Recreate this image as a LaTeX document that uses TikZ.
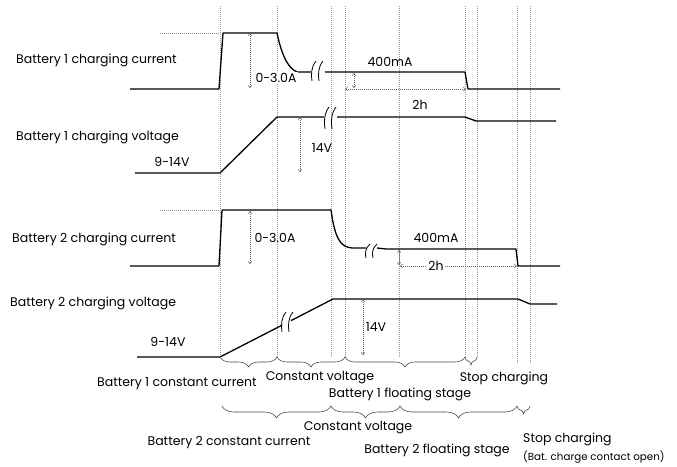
\documentclass[tikz,border=0pt]{standalone}
\usepackage{fontspec}
\setmainfont{Poppins}
\usetikzlibrary{arrows.meta,decorations.pathreplacing}
\tikzset{
  sig/.style={line width=1.3pt, black, line join=round},
  gridline/.style={gray!85, line width=0.5pt, dash pattern=on 1pt off 1pt},
  dimarrow/.style={gray!80!black, line width=0.5pt, dash pattern=on 1pt off 1pt,
     {To[length=3pt,width=4pt]}-{To[length=3pt,width=4pt]}},
  lbl/.style={font=\fontsize{12.5}{14}\selectfont, inner sep=1pt},
  smalllbl/.style={font=\fontsize{10.3}{12}\selectfont, inner sep=1pt},
  bracedeco/.style={decorate, decoration={brace, mirror, amplitude=#1}, line width=0.55pt, black!75},
  brkstroke/.style={line width=0.8pt, black}
}
\newcommand{\brkmark}[3]{% x, y, half height
  \draw[brkstroke] (#1+3,#2-#3) .. controls (#1-2,#2-#3*0.4) and (#1-2,#2+#3*0.4) .. (#1-1,#2+#3);
  \draw[brkstroke] (#1+10,#2-#3) .. controls (#1+5,#2-#3*0.4) and (#1+5,#2+#3*0.4) .. (#1+6,#2+#3);
}
\begin{document}
\begin{tikzpicture}[x=1pt,y=-1pt]
\useasboundingbox (0,0) rectangle (677,466);
% vertical dotted guides
\foreach \xx in {220,277,331,345,399,465,477} \draw[gridline] (\xx,6) -- (\xx,357);
\foreach \xx in {517,530} \draw[gridline] (\xx,6) -- (\xx,363);
% top dotted references
\draw[gridline] (160,33) -- (220,33);
\draw[gridline] (160,210) -- (220,210);

% ---------- Battery 1 charging current ----------
\draw[sig] (130,89) -- (219,89) -- (223,33) -- (277,33) .. controls (281,52) and (287,68) .. (297,72) -- (311,72);
\draw[sig] (325,72) -- (465,72) -- (468,89) -- (560,89);
\brkmark{313}{71}{10}
\coordinate (a1t) at (250,33); \coordinate (a1b) at (250,88);
\draw[dimarrow] (a1t) -- (a1b);
\node[lbl, fill=white] (i1lbl) at (276,78) {0-3.0A};
\node[lbl] (i1ma) at (390,62) {400mA};
\coordinate (s1t) at (354,73); \coordinate (s1b) at (354,88);
\draw[dimarrow] (s1t) -- (s1b);
\coordinate (h1l) at (345,89); \coordinate (h1r) at (466,89);
\draw[dimarrow] (h1l) -- (h1r);
\node[lbl] (h1) at (420,105) {2h};

% ---------- Battery 1 charging voltage ----------
\draw[sig] (135,173) -- (220,173) -- (277,117) -- (324,117);
\draw[sig] (337,117) -- (465,117) -- (476,121) -- (556,121);
\brkmark{326}{118}{11}
\coordinate (v1t) at (300,117); \coordinate (v1b) at (300,172);
\draw[dimarrow] (v1t) -- (v1b);
\node[lbl] (v1lbl) at (322,148) {14V};
\node[lbl] (v1r) at (172,162) {9-14V};

% ---------- Battery 2 charging current ----------
\draw[sig] (130,266) -- (219,266) -- (222,210) -- (331,210) .. controls (335,238) and (340,247) .. (352,248) -- (366,248);
\draw[sig] (377,248) -- (386,249) -- (516,249) -- (518,266) -- (560,266);
\brkmark{367}{251}{7}
\coordinate (a2t) at (250,211); \coordinate (a2b) at (250,264);
\draw[dimarrow] (a2t) -- (a2b);
\node[lbl] (i2lbl) at (275,238) {0-3.0A};
\node[lbl] (i2ma) at (436,238) {400mA};
\coordinate (s2t) at (399,250); \coordinate (s2b) at (399,265);
\draw[dimarrow] (s2t) -- (s2b);
\coordinate (h2l) at (400,266); \coordinate (h2r) at (517,266);
\draw[dimarrow] (h2l) -- (h2r);
\node[lbl, fill=white] (h2) at (436,266) {2h};

% ---------- Battery 2 charging voltage ----------
\draw[sig] (137,357) -- (220,357) -- (282,325.2);
\draw[sig] (291,320.6) -- (333,299) -- (518,299) -- (530,304) -- (557,304);
\brkmark{283}{322}{10}
\coordinate (v2t) at (363,299); \coordinate (v2b) at (363,355);
\draw[dimarrow] (v2t) -- (v2b);
\node[lbl] (v2lbl) at (376,327) {14V};
\node[lbl] (v2r) at (168,342) {9-14V};

% ---------- signal names ----------
\node[lbl, anchor=west] (n1) at (15,60) {Battery 1 charging current};
\node[lbl, anchor=west] (n2) at (15,137) {Battery 1 charging voltage};
\node[lbl, anchor=west] (n3) at (11,239) {Battery 2 charging current};
\node[lbl, anchor=west] (n4) at (9,303) {Battery 2 charging voltage};

% ---------- braces row 1 ----------
\draw[bracedeco=10pt] (220,357) -- (277,357);
\draw[bracedeco=10pt] (277,357) -- (345,357);
\draw[bracedeco=10pt] (345,357) -- (465,357);
\draw[bracedeco=8pt] (465,357) -- (477,357);
\node[lbl] (b1cc) at (177,384) {Battery 1 constant current};
\node[lbl] (b1cv) at (320,378) {Constant voltage};
\node[lbl] (b1fs) at (400,394) {Battery 1 floating stage};
\node[lbl] (b1sc) at (504,378) {Stop charging};

% ---------- braces row 2 ----------
\draw[bracedeco=12pt] (222,406) -- (331,406);
\draw[bracedeco=12pt] (331,406) -- (400,406);
\draw[bracedeco=12pt] (400,406) -- (517,406);
\draw[bracedeco=8pt] (517,406) -- (530,406);
\node[lbl] (b2cc) at (229,443) {Battery 2 constant current};
\node[lbl] (b2cv) at (358,428) {Constant voltage};
\node[lbl] (b2fs) at (437,450) {Battery 2 floating stage};
\node[lbl, anchor=west] (b2sc) at (522,439) {Stop charging};
\node[smalllbl, anchor=west] (b2op) at (522,457) {(Bat. charge contact open)};
\end{tikzpicture}
\end{document}
